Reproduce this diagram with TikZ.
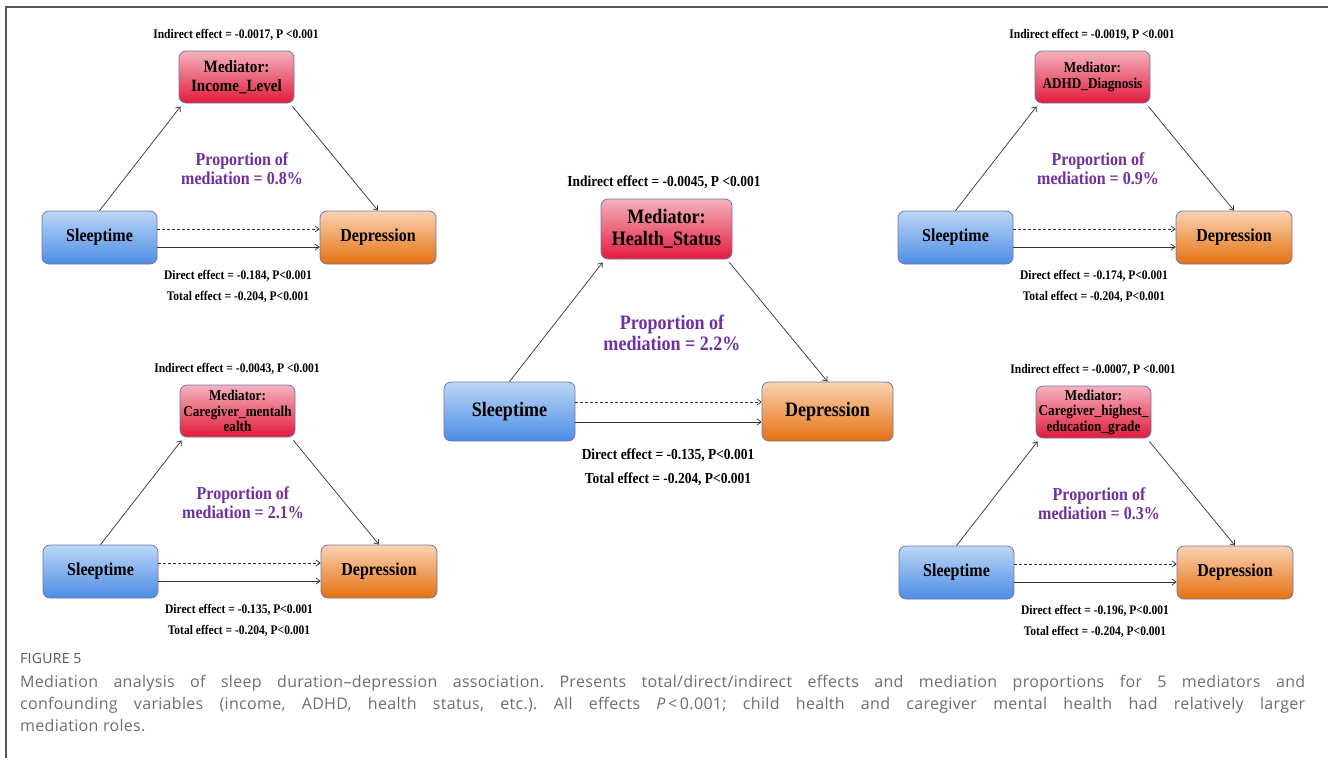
\documentclass[tikz,border=0pt]{standalone}
\usepackage{fontspec}
\setmainfont{Liberation Serif}[FakeStretch=0.88]
\newfontfamily\capfont{Open Sans}[LetterSpace=2]
\usetikzlibrary{arrows.meta}
\definecolor{bordc}{HTML}{7276A8}
\definecolor{redtop}{HTML}{F5B3BD}
\definecolor{redbot}{HTML}{E11A3B}
\definecolor{bluetop}{HTML}{BCD6F6}
\definecolor{bluebot}{HTML}{4C8DE5}
\definecolor{orgtop}{HTML}{FAD3B3}
\definecolor{orgbot}{HTML}{E5700F}
\definecolor{propc}{HTML}{7030A0}
\definecolor{arrc}{HTML}{333333}
\definecolor{capc}{HTML}{6E6E6E}
\definecolor{figc}{HTML}{555555}
\definecolor{framec}{HTML}{555555}
\tikzset{
  boxbase/.style={draw=bordc, line width=0.8pt, rounded corners=7pt, align=center, inner sep=0pt, text=black},
  medbox/.style={boxbase, top color=redtop, bottom color=redbot},
  sleepbox/.style={boxbase, top color=bluetop, bottom color=bluebot},
  depbox/.style={boxbase, top color=orgtop, bottom color=orgbot},
  lbl/.style={text=black, inner sep=0pt},
  proplbl/.style={text=propc, align=center, inner sep=0pt},
  arr/.style={draw=arrc, line width=0.7pt, -{Straight Barb[length=4pt,width=6pt]}},
  dasharr/.style={arr, dash pattern=on 3pt off 2pt},
  capline/.style={anchor=base west, inner sep=0pt, text=capc, font=\capfont\frenchspacing\fontsize{16}{19}\selectfont},
}
% #1 prefix, #2 shift, #3 indirect, #4 mediator name, #5 proportion, #6 direct, #7 mediator font
\newcommand\smallpanel[7]{%
\begin{scope}[shift={#2}]
  \node[lbl, font=\fontsize{13.1}{15}\selectfont\bfseries] (#1-ind) at (236,35) {Indirect effect = #3, P <0.001};
  \node[medbox, minimum width=115pt, minimum height=52pt, font=#7\bfseries] (#1-m) at (236.5,77) {Mediator:\\#4};
  \node[sleepbox, minimum width=115pt, minimum height=53pt, font=\fontsize{18.2}{20}\selectfont\bfseries] (#1-s) at (99.5,237.5) {Sleeptime};
  \node[depbox, minimum width=116pt, minimum height=53pt, font=\fontsize{18.2}{20}\selectfont\bfseries] (#1-d) at (378,237.5) {Depression};
  \node[proplbl, font=\fontsize{18.2}{19.5}\selectfont\bfseries] (#1-p) at (242,168.5) {Proportion of\\mediation = #5};
  \node[lbl, font=\fontsize{13.1}{15}\selectfont\bfseries] (#1-dir) at (238,276) {Direct effect = #6, P<0.001};
  \node[lbl, font=\fontsize{13.1}{15}\selectfont\bfseries] (#1-tot) at (238,297) {Total effect = -0.204, P<0.001};
  \draw[arr] (#1-s.north) -- ([xshift=2pt,yshift=-3pt]#1-m.south west);
  \draw[arr] ([xshift=-2pt,yshift=-3pt]#1-m.south east) -- (#1-d.north);
  \draw[dasharr] ([yshift=8.5pt]#1-s.east) -- ([yshift=8.5pt]#1-d.west);
  \draw[arr] ([yshift=-9.5pt]#1-s.east) -- ([yshift=-9.5pt]#1-d.west);
\end{scope}}
\begin{document}
\begin{tikzpicture}[x=1pt,y=-1pt]
\useasboundingbox[fill=white] (0,0) rectangle (1328,761);
\draw[framec, line width=1.3pt] (6,758) -- (6,7) -- (1328,7);

\smallpanel{a}{(0,0)}{-0.0017}{Income\_Level}{0.8\%}{-0.184}{\fontsize{17.2}{19.5}\selectfont}
\smallpanel{b}{(856,0)}{-0.0019}{ADHD\_Diagnosis}{0.9\%}{-0.174}{\fontsize{15}{16}\selectfont}
\smallpanel{c}{(1,334)}{-0.0043}{Caregiver\_mentalh\\ealth}{2.1\%}{-0.135}{\fontsize{14.9}{15.5}\selectfont}
\smallpanel{e}{(857,335)}{-0.0007}{Caregiver\_highest\_\\education\_grade}{0.3\%}{-0.196}{\fontsize{15}{15.5}\selectfont}

% centre panel
\node[lbl, font=\fontsize{15.3}{17}\selectfont\bfseries] (k-ind) at (664,182) {Indirect effect = -0.0045, P <0.001};
\node[medbox, minimum width=131pt, minimum height=60pt, font=\fontsize{20.5}{22}\selectfont\bfseries] (k-m) at (666.5,229) {Mediator:\\Health\_Status};
\node[sleepbox, minimum width=131pt, minimum height=59pt, font=\fontsize{20.5}{22}\selectfont\bfseries] (k-s) at (509.5,411.5) {Sleeptime};
\node[depbox, minimum width=131pt, minimum height=59pt, font=\fontsize{20.5}{22}\selectfont\bfseries] (k-d) at (827.5,411.5) {Depression};
\node[proplbl, font=\fontsize{20.5}{21}\selectfont\bfseries] (k-p) at (672,333) {Proportion of\\mediation = 2.2\%};
\node[lbl, font=\fontsize{15.3}{17}\selectfont\bfseries] (k-dir) at (668,455) {Direct effect = -0.135, P<0.001};
\node[lbl, font=\fontsize{15.3}{17}\selectfont\bfseries] (k-tot) at (668,479) {Total effect = -0.204, P<0.001};
\draw[arr] (k-s.north) -- ([xshift=2pt,yshift=-3pt]k-m.south west);
\draw[arr] ([xshift=-3pt,yshift=-3pt]k-m.south east) -- (k-d.north);
\draw[dasharr] ([yshift=9.5pt]k-s.east) -- ([yshift=9.5pt]k-d.west);
\draw[arr] ([yshift=-10.5pt]k-s.east) -- ([yshift=-10.5pt]k-d.west);

% caption
\node[anchor=base west, inner sep=0pt, text=figc, font=\capfont\fontsize{14}{16}\selectfont] (fig) at (20,663) {FIGURE 5};
\node[capline] (cap1) at (20,687) {\makebox[1285pt][s]{Mediation analysis of sleep duration–depression association. Presents total/direct/indirect effects and mediation proportions for 5 mediators and}};
\node[capline] (cap2) at (20,709) {\makebox[1285pt][s]{confounding variables (income, ADHD, health status, etc.). All effects {\itshape P}\,<\,0.001; child health and caregiver mental health had relatively larger}};
\node[capline] (cap3) at (20,731) {mediation roles.};
\end{tikzpicture}
\end{document}
